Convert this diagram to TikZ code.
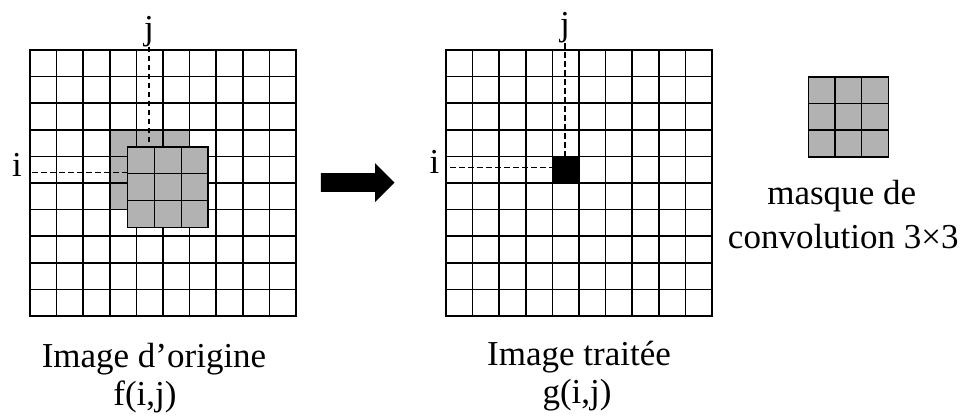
\documentclass[tikz,border=0pt]{standalone}
\usepackage{fontspec}
\setmainfont{Liberation Serif}
\usetikzlibrary{shapes.arrows,positioning}
\colorlet{maskgray}{black!30}
\tikzset{gridline/.style={line width=1.6pt,line cap=rect},
  guide/.style={line width=1.3pt,dash pattern=on 5.5pt off 3.5pt},
  maskcell/.style={fill=maskgray,draw=black,line width=1.6pt},
  lab/.style={font=\fontsize{35}{38}\selectfont,inner sep=0pt,anchor=base},
  bigarrow/.style={single arrow,fill=black,inner xsep=0pt,inner ysep=9.2pt,
    minimum height=73.6pt,single arrow head extend=10pt}}

\begin{document}
\begin{tikzpicture}[x=1pt,y=-1pt]
\useasboundingbox (0,0) rectangle (965,416);

% Shadow of the mask, centred on pixel (i,j).
\fill[maskgray] (109.8,129.8) rectangle (189.6,209.6);

% Both 10x10 images, cell 26.6.
\foreach \ox in {30,446}{
  \foreach \k in {0,...,10}{
    \draw[gridline] (\ox+\k*26.6,50) -- (\ox+\k*26.6,316);
    \draw[gridline] (\ox,50+\k*26.6) -- (\ox+266,50+\k*26.6);
  }
}

% Processed pixel g(i,j).
\fill (552.4,156.4) rectangle ++(26.6,26.6);

% Row and column guides.
\node[lab] (jf) at (149,39) {j};
\node[lab] (if) at (17,176.7) {i};
\node[lab] (jg) at (565,35.5) {j};
\node[lab] (ig) at (434.5,173.3) {i};
\coordinate (jfend) at (149,146.7);
\coordinate (ifstart) at (32,172.3);
\coordinate (ifend) at (127.5,172.3);
\coordinate (jgend) at (565,156.4);
\coordinate (igstart) at (450,167.3);
\coordinate (igend) at (552.4,167.3);
\draw[guide] (jf.south) -- (jfend);
\draw[guide] (ifstart) -- (ifend);
\draw[guide] (jg.south) -- (jgend);
\draw[guide] (igstart) -- (igend);

% Mask moved over the original image, and the mask alone.
\foreach \c in {0,1,2}{
  \foreach \r in {0,1,2}{
    \draw[maskcell] (127.5+\c*26.9,146.7+\r*26.9) rectangle ++(26.9,26.9);
    \draw[maskcell] (808.3+\c*26.67,76.7+\r*26.67) rectangle ++(26.67,26.67);
  }
}

% Processing arrow.
\node[bigarrow] (step1) at (353,182.5) {};

% Captions.
\node[lab] (orig) at (154,367) {Image d’origine};
\node[lab] (forig) at (145,405) {f(i,j)};
\node[lab] (proc) at (579,365) {Image traitée};
\node[lab] (gproc) at (577,403) {g(i,j)};
\node[lab] (mname) at (841.7,204) {masque de};
\node[lab] (mconv) at (843.3,248.3) {convolution 3×3};
\end{tikzpicture}
\end{document}
